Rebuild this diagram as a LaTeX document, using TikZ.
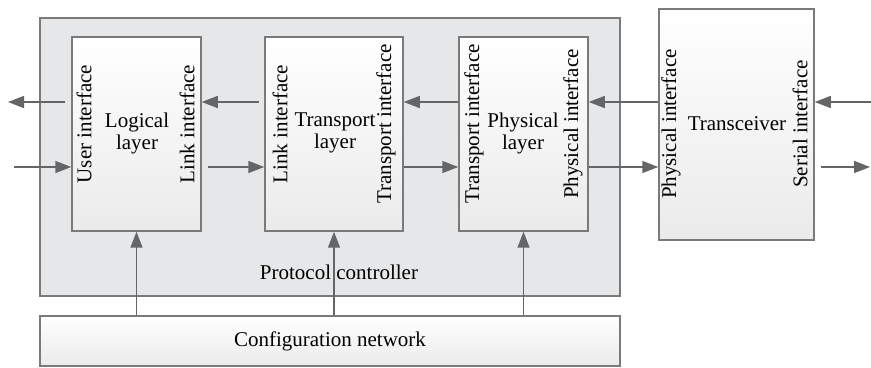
\documentclass[tikz,border=0pt]{standalone}
\usepackage{fontspec}
\setmainfont{Liberation Serif}
\usetikzlibrary{arrows.meta,fit,shadows}
\definecolor{linec}{HTML}{646567}
\definecolor{outerfill}{HTML}{E6E7E8}
\definecolor{edgec}{HTML}{7A7A7A}
\begin{document}
\begin{tikzpicture}[x=0.5pt,y=-0.5pt,
 font=\fontsize{10.5}{11}\selectfont,
 outer/.style={draw=edgec, line width=0.75pt, fill=outerfill, inner sep=0pt},
 layerbox/.style={draw=edgec, line width=0.75pt, top color=white, bottom color=gray!16, inner sep=0pt,
   drop shadow={shadow xshift=0.7pt, shadow yshift=-0.7pt, opacity=0.2}},
 arr/.style={draw=linec, line width=0.75pt, -{Triangle[length=8pt,width=6pt]}},
 vlab/.style={rotate=90, inner sep=0pt},
 lab/.style={align=center, inner sep=0pt}]
\useasboundingbox (0,0) rectangle (871,368);
% boxes
\node[outer, fit={(40,18)(620,296)}] (pc) {};
\node[layerbox, fit={(72,37)(201,231)}] (logb) {};
\node[layerbox, fit={(265,37)(403,231)}] (trb) {};
\node[layerbox, fit={(459,37)(588,231)}] (phb) {};
\node[layerbox, fit={(659,9)(814,240)}] (tcv) {};
\node[layerbox, fit={(40,316)(620,366)}] (cfg) {};
% texts
\node[vlab] (t1) at (84,124) {User interface};
\node[lab] (t2) at (137,133) {Logical\\layer};
\node[vlab] (t3) at (187,124) {Link interface};
\node[vlab] (t4) at (280,124) {Link interface};
\node[lab] (t5) at (335,133) {Transport\\layer};
\node[vlab] (t6) at (386,124) {Transport interface};
\node[vlab] (t7) at (474,124) {Transport interface};
\node[lab] (t8) at (523,133) {Physical\\layer};
\node[vlab] (t9) at (573,124) {Physical interface};
\node[vlab] (t10) at (671,124) {Physical interface};
\node[lab] (t11) at (737,124) {Transceiver};
\node[vlab] (t12) at (800,124) {Serial interface};
\node[lab] (t13) at (339,272) {Protocol controller};
\node[lab] (t14) at (330,341) {Configuration network};
% rows
\coordinate (up) at (0,102);
\coordinate (dn) at (0,167);
\coordinate (lout) at (8,102);
\coordinate (lin) at (14,167);
\coordinate (rin) at (871,102);
\coordinate (rout) at (870,167);
% upper row (right to left)
\draw[arr] (rin) -- (tcv.east |- up);
\draw[arr, shorten <=0pt] (tcv.west |- up) -- (phb.east |- up);
\draw[arr] (phb.west |- up) -- (trb.east |- up);
\draw[arr, shorten <=2.5pt] (trb.west |- up) -- (logb.east |- up);
\draw[arr, shorten <=3pt] (logb.west |- up) -- (lout);
% lower row (left to right)
\draw[arr] (lin) -- (logb.west |- dn);
\draw[arr, shorten <=3pt] (logb.east |- dn) -- (trb.west |- dn);
\draw[arr] (trb.east |- dn) -- (phb.west |- dn);
\draw[arr] (phb.east |- dn) -- (tcv.west |- dn);
\draw[arr, shorten <=3pt] (tcv.east |- dn) -- (rout);
% configuration
\draw[arr] (cfg.north -| logb.south) -- (logb.south);
\draw[arr] (cfg.north -| trb.south) -- (trb.south);
\draw[arr] (cfg.north -| phb.south) -- (phb.south);
\end{tikzpicture}
\end{document}
